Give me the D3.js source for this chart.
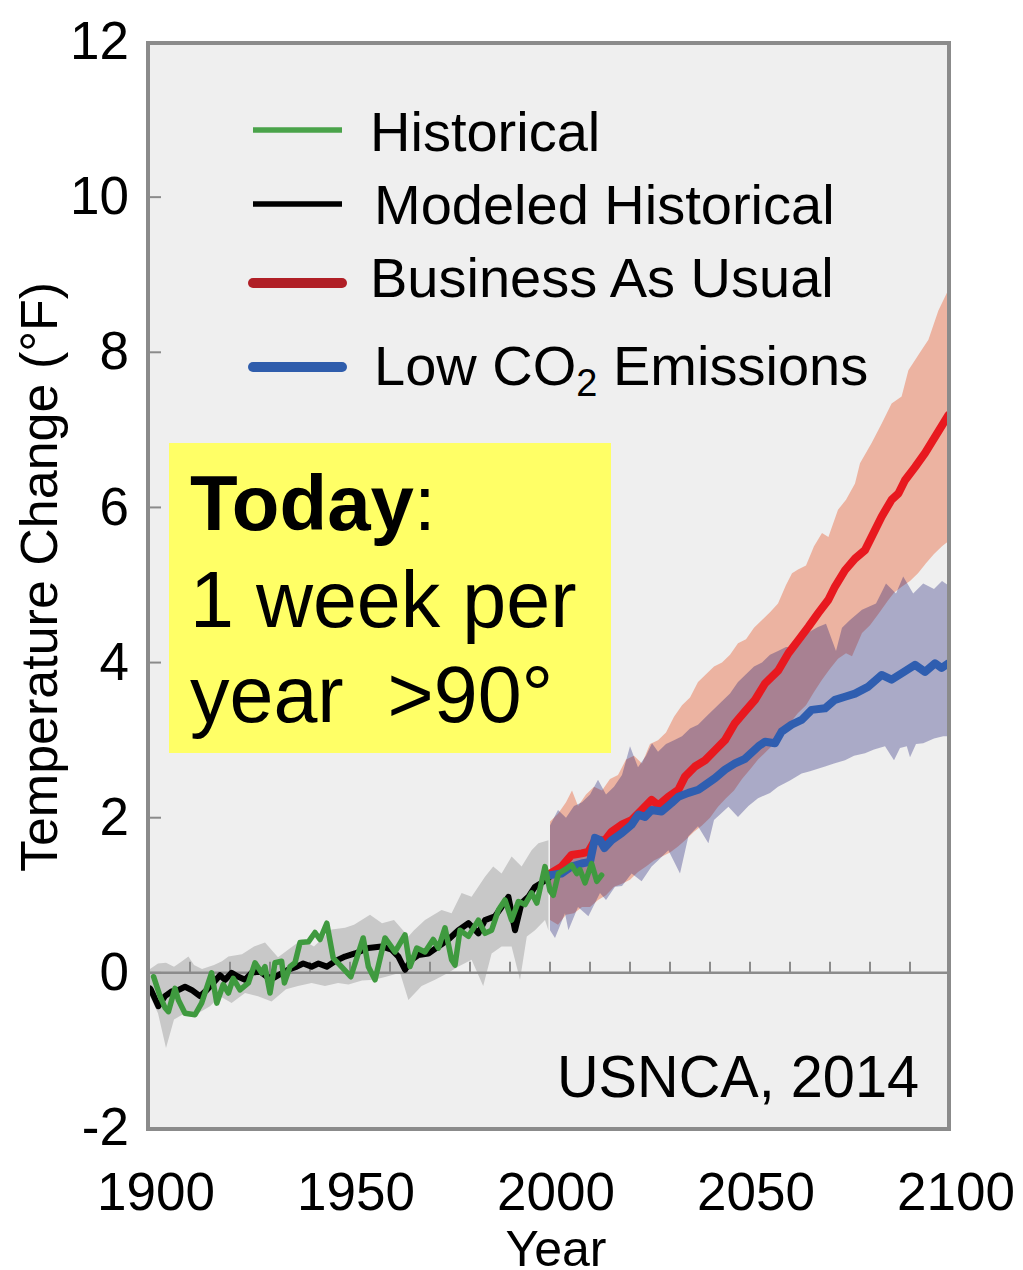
<!DOCTYPE html>
<html>
<head>
<meta charset="utf-8">
<script src="https://cdn.jsdelivr.net/npm/d3@7"></script>
<style>
  html, body { margin: 0; padding: 0; background: #ffffff; }
  svg { display: block; }
  text { font-family: "Liberation Sans", Arial, sans-serif; fill: #000; }
</style>
</head>
<body>
<svg id="chart" width="1023" height="1270"></svg>
<script>
// ---------------- DATA ----------------
const yTicks = [-2, 0, 2, 4, 6, 8, 10, 12];
const xTickLabels = [1900, 1950, 2000, 2050, 2100];
const xMinorTicks = [1910, 1920, 1930, 1940, 1950, 1960, 1970, 1980, 1990, 2000, 2010, 2020, 2030, 2040, 2050, 2060, 2070, 2080, 2090];
const legendLabels = ["Historical", "Modeled Historical", "Business As Usual", "Low CO2 Emissions"];

// observed (green)
const historical = [[1900.9,-0.05],[1902.5,-0.3],[1903.75,-0.45],[1904.6,-0.5],[1906.25,-0.2],[1907.1,-0.35],[1908.75,-0.52],[1911.25,-0.54],[1912.9,-0.39],[1915.4,0.0],[1916.7,-0.39],[1918.3,-0.15],[1919.6,-0.26],[1920.8,-0.07],[1922.5,-0.22],[1924.6,-0.13],[1926.25,0.13],[1927.9,0.0],[1928.75,0.08],[1930,-0.26],[1931.25,0.13],[1932.9,0.15],[1933.6,-0.13],[1935,0.08],[1936.25,0.13],[1937.5,0.39],[1939.6,0.4],[1941.25,0.52],[1942.5,0.43],[1944.2,0.64],[1945.8,0.19],[1947.5,0.1],[1950.2,-0.05],[1953.3,0.45],[1954.6,0.08],[1956.25,-0.09],[1958.75,0.45],[1961.25,0.27],[1963.75,0.49],[1965,0.08],[1966.7,0.32],[1968.75,0.27],[1970.8,0.43],[1972.1,0.32],[1973.75,0.58],[1975.4,0.17],[1976.25,0.1],[1977.5,0.55],[1979.6,0.47],[1982.1,0.68],[1983.75,0.51],[1985.4,0.55],[1987.1,0.81],[1988.75,0.94],[1990.4,0.68],[1992.1,0.92],[1993.75,0.88],[1995.4,1.03],[1996.7,0.9],[1998.75,1.37],[2000,1.06],[2000.8,1.0],[2002.1,1.28],[2003.75,1.33],[2005.4,1.39],[2006.7,1.28],[2007.5,1.33],[2008.75,1.16],[2010.4,1.41],[2011.7,1.18],[2012.9,1.26]];

// modeled historical mean (black)
const modeled = [[1900,-0.2],[1900.25,-0.22],[1902.1,-0.43],[1903.75,-0.3],[1905.4,-0.24],[1907.1,-0.22],[1908.75,-0.18],[1910.4,-0.22],[1912.5,-0.3],[1914.2,-0.22],[1915.8,-0.13],[1917.5,-0.03],[1918.75,-0.09],[1920.4,0],[1922.1,-0.05],[1923.75,-0.09],[1925.4,0],[1927.5,0.02],[1929.2,-0.05],[1930.8,-0.07],[1932.1,-0.03],[1934.6,0.04],[1936.7,0.08],[1938.3,0.12],[1940.4,0.08],[1942.1,0.12],[1944.2,0.08],[1946.25,0.15],[1948.75,0.21],[1951.25,0.25],[1954.6,0.32],[1957.9,0.34],[1960.4,0.3],[1962.1,0.21],[1963.75,0.04],[1965.4,0.17],[1967.1,0.23],[1969.6,0.25],[1972.1,0.34],[1974.6,0.43],[1977.1,0.55],[1979.6,0.64],[1982.1,0.51],[1983.75,0.68],[1986.25,0.73],[1987.9,0.85],[1989.6,0.98],[1991.25,0.55],[1992.9,0.9],[1994.6,0.98],[1996.25,1.11],[1997.9,1.16],[1999.6,1.22]];

// modeled historical range (grey)
const modeledUpper = [[1900,0.05],[1902,0.12],[1904,0.13],[1906,0.08],[1908,0.15],[1909.6,0.21],[1911,0.1],[1913,0.05],[1916,0.1],[1918,0.15],[1919.6,0.21],[1923,0.24],[1926,0.34],[1928.75,0.39],[1932,0.2],[1934.6,0.3],[1938,0.43],[1941,0.34],[1945.4,0.56],[1948.75,0.58],[1951,0.62],[1955,0.75],[1958,0.64],[1961,0.68],[1964.6,0.47],[1966,0.55],[1968.75,0.68],[1972.9,0.81],[1975.4,0.77],[1977.9,1.03],[1980.4,0.98],[1983.75,1.24],[1985.8,1.37],[1987.9,1.28],[1990.4,1.5],[1992.9,1.37],[1995.4,1.58],[1997.1,1.67],[1999.6,1.71]];
const modeledLower = [[1900,-0.3],[1902,-0.52],[1904,-0.97],[1906,-0.6],[1908.75,-0.52],[1912,-0.52],[1915,-0.43],[1917.5,-0.3],[1920.4,-0.39],[1923.75,-0.26],[1927,-0.3],[1930.4,-0.37],[1934,-0.21],[1937,-0.17],[1940.4,-0.13],[1943.75,-0.17],[1947,-0.13],[1949.6,-0.15],[1953,-0.1],[1956,-0.09],[1959,-0.05],[1962.5,0],[1964.6,-0.35],[1967.9,-0.17],[1971.25,-0.09],[1974.6,0],[1977,0.08],[1980.4,0.17],[1983.3,-0.17],[1985.4,0.25],[1987.9,0.34],[1990.4,0.34],[1992.5,-0.09],[1994.2,0.47],[1996.25,0.55],[1998.75,0.68],[1999.6,0.55]];

// Business as usual (red)
const bau = [[2000,1.28],[2002.9,1.37],[2005.4,1.52],[2007.9,1.54],[2009.6,1.56],[2011.25,1.71],[2013.75,1.71],[2015.4,1.82],[2017.9,1.91],[2020.4,1.97],[2022.9,2.1],[2025.4,2.23],[2027.1,2.16],[2029.6,2.27],[2032.1,2.36],[2033.75,2.53],[2036.25,2.66],[2038.75,2.74],[2041.25,2.87],[2043.75,3.0],[2046.25,3.22],[2048.75,3.37],[2051.25,3.52],[2053.75,3.73],[2057.1,3.9],[2059.6,4.12],[2062.1,4.29],[2064.6,4.46],[2067.1,4.64],[2069.6,4.81],[2071.25,4.98],[2073.75,5.19],[2076.25,5.34],[2078.75,5.45],[2080.4,5.62],[2082.9,5.88],[2085.4,6.1],[2087.1,6.18],[2088.75,6.35],[2091.25,6.52],[2093.75,6.7],[2096.25,6.91],[2099.6,7.19]];
const bauUpper = [[2000,1.95],[2002,2.05],[2004,2.2],[2005.5,2.35],[2007,2.15],[2009,2.3],[2011,2.4],[2013,2.35],[2015,2.5],[2017,2.55],[2019,2.75],[2021,2.8],[2023,2.7],[2025,2.95],[2027,3.0],[2029,3.1],[2031,3.3],[2033,3.45],[2035,3.55],[2037,3.75],[2039,3.85],[2041,3.95],[2043,4.0],[2045,4.1],[2047,4.25],[2049,4.3],[2051,4.45],[2053,4.55],[2055,4.65],[2057,4.76],[2059,5.0],[2060.5,5.15],[2062,5.2],[2064,5.25],[2066,5.5],[2068,5.67],[2069.6,5.62],[2072,5.97],[2074,6.1],[2076.25,6.31],[2077.5,6.57],[2080.4,6.83],[2082.9,7.08],[2085.4,7.34],[2087.9,7.43],[2089.6,7.77],[2092.9,8.03],[2094.6,8.16],[2097.1,8.54],[2100,8.85]];
const bauLower = [[2000,0.68],[2002,0.62],[2004,0.75],[2006,0.77],[2008,0.85],[2010,0.85],[2012,0.94],[2014,1.0],[2016,1.11],[2018,1.15],[2020,1.2],[2022,1.3],[2024,1.37],[2026,1.45],[2028,1.5],[2030,1.55],[2032,1.63],[2034,1.72],[2036,1.82],[2038,1.9],[2040,2.0],[2042,2.14],[2044,2.25],[2046,2.35],[2048,2.5],[2050,2.62],[2052,2.75],[2054,2.85],[2056,2.95],[2058,3.05],[2060,3.22],[2062,3.35],[2064,3.45],[2066,3.62],[2068,3.78],[2070,3.92],[2072,4.05],[2074,4.12],[2075.5,4.08],[2078,4.38],[2080,4.48],[2082,4.62],[2084.5,4.8],[2086,4.9],[2088,4.98],[2090,5.05],[2092,5.15],[2094,5.28],[2096,5.4],[2098,5.5],[2100,5.58]];

// Low CO2 emissions (blue)
const low = [[2000,1.26],[2002.9,1.28],[2005.4,1.37],[2007.9,1.41],[2010,1.43],[2011.25,1.74],[2012.5,1.71],[2013.6,1.61],[2015.4,1.71],[2017.9,1.8],[2020.4,1.91],[2022.1,2.04],[2023.75,2.01],[2025.4,2.1],[2027.9,2.08],[2030.4,2.19],[2032.1,2.27],[2034.6,2.32],[2037.1,2.36],[2038.75,2.42],[2041.25,2.51],[2043.75,2.62],[2046.25,2.7],[2048.75,2.76],[2052.1,2.92],[2053.75,2.98],[2056.25,2.96],[2057.9,3.11],[2060.4,3.2],[2062.9,3.26],[2065.4,3.39],[2068.75,3.41],[2071.25,3.52],[2073.75,3.56],[2076.25,3.6],[2079.6,3.69],[2082.9,3.84],[2085.4,3.78],[2087.9,3.86],[2091.25,3.97],[2093.75,3.88],[2096.25,3.99],[2097.9,3.93],[2099.6,3.99]];
const lowUpper = [[2000,1.9],[2002,2.1],[2004,2.0],[2006,2.15],[2008,2.2],[2010,2.3],[2012,2.49],[2014,2.3],[2016,2.4],[2018,2.55],[2020,2.92],[2022,2.65],[2024,2.8],[2025.5,2.96],[2027,2.85],[2029,2.95],[2031,3.0],[2033,3.05],[2035,3.15],[2037,3.2],[2039,3.3],[2041,3.4],[2043,3.5],[2045,3.6],[2047,3.75],[2049,3.85],[2051,3.95],[2053,4.0],[2055,4.1],[2057,4.15],[2059,4.2],[2061,4.2],[2063,4.33],[2065,4.4],[2067,4.46],[2069,4.5],[2071.5,4.15],[2073,4.45],[2075,4.55],[2078,4.68],[2081.5,4.76],[2084,5.02],[2086.5,4.89],[2088.3,5.11],[2090.8,4.89],[2093.3,5.02],[2096,4.95],[2098,5.05],[2100,4.98]];
const lowLower = [[2000,0.55],[2001.25,0.45],[2003.75,0.77],[2004.6,0.55],[2007,0.85],[2009.6,0.73],[2012.5,1.03],[2014,0.94],[2016.25,1.11],[2018,1.12],[2020.4,1.28],[2022.9,1.18],[2025.4,1.37],[2027,1.45],[2029.6,1.58],[2032.5,1.28],[2034.6,1.76],[2037,1.89],[2039.6,1.67],[2041,1.97],[2044.6,2.14],[2047,2.01],[2049.6,2.15],[2052,2.25],[2055,2.32],[2057,2.4],[2060,2.48],[2062.9,2.57],[2065,2.6],[2068.75,2.66],[2071,2.7],[2073.75,2.74],[2076,2.8],[2078.75,2.83],[2081,2.88],[2083.75,2.92],[2086,2.74],[2087.5,2.9],[2089.2,2.92],[2090,2.78],[2091.5,2.95],[2093.3,2.96],[2096,3.02],[2098.3,3.05],[2100,3.05]];

// ---------------- DRAW ----------------
const svg = d3.select("#chart");
const x = d3.scaleLinear().domain([1900, 2100]).range([150, 950]);
const y = d3.scaleLinear().domain([-2, 12]).range([1128, 42]);

const frameColor = "#8b8b8b";

// plot background
svg.append("rect")
  .attr("x", 148).attr("y", 43).attr("width", 801).attr("height", 1086)
  .attr("fill", "#efefef");

const line = d3.line().x(d => x(d[0])).y(d => y(d[1]));
function band(upper, lower) {
  return line(upper.concat(lower.slice().reverse())) + "Z";
}

svg.append("clipPath").attr("id", "plotclip").append("rect")
  .attr("x", 148).attr("y", 43).attr("width", 801).attr("height", 1086);
const plot = svg.append("g").attr("clip-path", "url(#plotclip)");

// bands
plot.append("path").attr("d", band(modeledUpper, modeledLower)).attr("fill", "#c8c8c8");
plot.append("path").attr("d", band(bauUpper, bauLower)).attr("fill", "#ecb3a1");
plot.append("path").attr("d", band(lowUpper, lowLower)).attr("fill", "rgba(25,25,115,0.32)");

// zero line + minor ticks
plot.append("line")
  .attr("x1", 148).attr("x2", 950).attr("y1", y(0)).attr("y2", y(0))
  .attr("stroke", frameColor).attr("stroke-width", 2.5);
plot.selectAll(".xt").data(xMinorTicks).enter().append("line")
  .attr("x1", d => x(d)).attr("x2", d => x(d))
  .attr("y1", y(0)).attr("y2", y(0) - 11)
  .attr("stroke", frameColor).attr("stroke-width", 2);

// left ticks
svg.selectAll(".yt").data(yTicks.filter(v => v > -2 && v < 12)).enter().append("line")
  .attr("x1", 148).attr("x2", 161)
  .attr("y1", d => y(d)).attr("y2", d => y(d))
  .attr("stroke", frameColor).attr("stroke-width", 2);

// lines
function drawLine(data, color, width) {
  plot.append("path").attr("d", line(data))
    .attr("fill", "none").attr("stroke", color).attr("stroke-width", width)
    .attr("stroke-linejoin", "round").attr("stroke-linecap", "round");
}
drawLine(modeled, "#000000", 6);
drawLine(bau, "#e8191f", 8);
drawLine(low, "#2f5eb0", 8);
drawLine(historical, "#3f9a3f", 5.5);

// frame
svg.append("rect")
  .attr("x", 148).attr("y", 43).attr("width", 801).attr("height", 1086)
  .attr("fill", "none").attr("stroke", frameColor).attr("stroke-width", 4);

// y tick labels
svg.selectAll(".ylab").data(yTicks).enter().append("text")
  .attr("x", 129).attr("y", d => y(d) - 2)
  .attr("dy", "0.36em")
  .attr("text-anchor", "end")
  .attr("font-size", 53)
  .text(d => d);

// x tick labels
svg.selectAll(".xlab").data(xTickLabels).enter().append("text")
  .attr("x", d => x(d) + 6).attr("y", 1210)
  .attr("text-anchor", "middle")
  .attr("font-size", 53)
  .text(d => d);

// axis titles
svg.append("text")
  .attr("x", 556).attr("y", 1266)
  .attr("text-anchor", "middle").attr("font-size", 50)
  .text("Year");
svg.append("text")
  .attr("transform", "translate(57,577) rotate(-90)")
  .attr("text-anchor", "middle").attr("font-size", 52)
  .text("Temperature Change (°F)");

// legend
const legendY = [130, 204, 283, 367];
const legendColors = ["#4aa34a", "#000000", "#b01f26", "#2f5dac"];
const legendWidths = [5.5, 5.5, 10, 10];
const legendText = [151, 224, 297, 385];
const lg = svg.append("g");
legendLabels.forEach((lab, i) => {
  lg.append("line")
    .attr("x1", 253).attr("x2", 342)
    .attr("y1", legendY[i]).attr("y2", legendY[i])
    .attr("stroke", legendColors[i]).attr("stroke-width", legendWidths[i])
    .attr("stroke-linecap", i >= 2 ? "round" : "butt");
  const t = lg.append("text")
    .attr("x", i === 1 || i === 3 ? 374 : 370).attr("y", legendText[i])
    .attr("font-size", 56);
  if (lab.indexOf("CO2") >= 0) {
    t.append("tspan").text("Low CO");
    t.append("tspan").attr("font-size", 38).attr("dy", 11).text("2");
    t.append("tspan").attr("dy", -11).text(" Emissions");
  } else {
    t.text(lab);
  }
});

// yellow annotation box
svg.append("rect")
  .attr("x", 169).attr("y", 443).attr("width", 442).attr("height", 310)
  .attr("fill", "#ffff66");
const t1 = svg.append("text").attr("x", 190).attr("y", 530).attr("font-size", 78);
t1.append("tspan").attr("font-weight", "bold").text("Today");
t1.append("tspan").text(":");
svg.append("text").attr("x", 190).attr("y", 627).attr("font-size", 79).text("1 week per");
svg.append("text").attr("x", 190).attr("y", 722).attr("font-size", 79)
  .attr("xml:space", "preserve").style("white-space", "pre")
  .text("year  >90°");

// source
svg.append("text")
  .attr("x", 557).attr("y", 1097)
  .attr("font-family", "Lato, 'Open Sans', sans-serif")
  .attr("font-size", 60)
  .attr("textLength", 362).attr("lengthAdjust", "spacingAndGlyphs")
  .text("USNCA, 2014");
</script>
</body>
</html>
